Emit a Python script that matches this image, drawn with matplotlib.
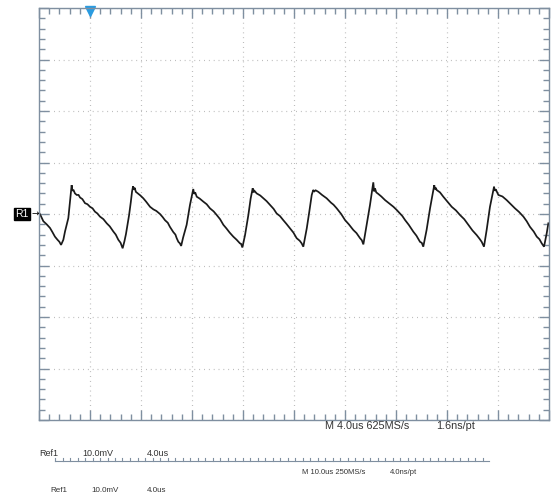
import matplotlib
matplotlib.use("Agg")
import matplotlib.pyplot as plt
from matplotlib.ticker import MultipleLocator

plt.rcParams["font.family"] = ["Liberation Sans", "DejaVu Sans"]

# Reference waveform R1: time in microseconds, amplitude in millivolts.
# One line per ramp (fall) or edge (rise).
time_us = [
    0.00, 0.15, 0.34, 0.60, 0.86, 1.05, 1.25, 1.45, 1.60, 1.73,
    1.91, 2.04, 2.17, 2.30, 2.43, 2.56,
    2.62, 2.70, 2.82, 2.96, 3.10, 3.22, 3.40, 3.61, 3.80, 4.00, 4.20, 4.39, 4.58, 4.78, 5.05, 5.31, 5.55, 5.83, 6.02, 6.22, 6.40, 6.56,
    6.70, 6.82, 6.95, 7.06, 7.20, 7.30, 7.38,
    7.44, 7.50, 7.60, 7.75, 7.95, 8.18, 8.40, 8.71, 8.97, 9.20, 9.49, 9.70, 9.88, 10.10, 10.27, 10.53, 10.70, 10.80, 10.93, 11.05, 11.15,
    11.30, 11.58, 11.84, 12.10,
    12.16, 12.25, 12.37, 12.60, 12.89, 13.15, 13.41, 13.70, 13.94, 14.20, 14.46, 14.70, 14.95, 15.24, 15.50, 15.76, 15.85, 15.95,
    16.16, 16.42, 16.60, 16.76,
    16.82, 16.90, 17.07, 17.35, 17.60, 17.85, 18.12, 18.40, 18.64, 18.90, 19.16, 19.40, 19.69, 19.95, 20.21, 20.45, 20.60, 20.73,
    21.00, 21.20, 21.39, 21.51,
    21.60, 21.70, 21.91, 22.20, 22.56, 22.90, 23.10, 23.35, 23.70, 24.00, 24.30, 24.65, 24.90, 25.18, 25.32, 25.44,
    25.70, 25.96, 26.22,
    26.28, 26.35, 26.45, 26.61, 26.85, 27.14, 27.45, 27.80, 28.05, 28.31, 28.50, 28.71, 29.00, 29.36, 29.60, 29.88, 30.02, 30.14,
    30.40, 30.67, 31.00,
    31.06, 31.12, 31.19, 31.45, 31.71, 32.00, 32.37, 32.70, 33.02, 33.35, 33.67, 34.00, 34.33, 34.55, 34.72, 34.90,
    35.11, 35.37, 35.69,
    35.75, 35.82, 36.03, 36.35, 36.68, 37.00, 37.33, 37.65, 37.99, 38.25, 38.51, 38.80, 39.04, 39.25, 39.43, 39.61,
    39.82, 39.95,
]
level_mv = [
    0.3, -0.4, -1.4, -2.0, -2.7, -3.5, -4.4, -5.0, -5.4, -6.0,
    -5.0, -3.4, -2.1, -0.8, 2.4, 5.6,
    4.5, 4.7, 4.0, 3.7, 3.7, 3.2, 2.9, 2.1, 1.9, 1.4, 1.1, 0.45, 0.1, -0.5, -1.0, -1.8, -2.4, -3.4, -4.0, -5.0, -5.6, -6.66,
    -5.3, -3.9, -2.0, -0.3, 2.3, 4.4, 5.4,
    4.7, 5.1, 4.3, 4.0, 3.6, 3.05, 2.4, 1.4, 0.9, 0.6, 0.0, -0.6, -1.2, -1.7, -2.5, -3.5, -4.0, -4.7, -5.4, -5.7, -6.2,
    -4.6, -2.1, 1.75, 4.85,
    3.9, 4.2, 3.36, 3.0, 2.4, 1.9, 1.1, 0.5, -0.2, -1.0, -2.1, -2.8, -3.6, -4.4, -5.0, -5.7, -5.8, -6.5,
    -4.1, -0.2, 3.0, 5.0,
    4.2, 4.5, 4.0, 3.6, 3.05, 2.5, 1.75, 1.0, 0.1, -0.4, -1.2, -1.9, -2.8, -3.6, -4.7, -5.2, -5.7, -6.35,
    -2.8, 0.45, 3.7, 4.66,
    4.4, 4.6, 4.3, 3.7, 3.05, 2.2, 1.8, 1.1, 0.0, -1.17, -2.0, -3.1, -3.7, -4.7, -5.1, -5.9,
    -2.1, 1.75, 6.15,
    4.4, 5.0, 4.2, 3.9, 3.4, 2.7, 2.1, 1.4, 0.8, 0.1, -0.4, -1.17, -2.1, -3.44, -4.2, -5.4, -5.6, -6.35,
    -3.1, 1.1, 5.6,
    4.8, 5.1, 4.66, 4.2, 3.36, 2.5, 1.4, 0.7, -0.2, -1.0, -2.1, -3.2, -4.1, -4.8, -5.4, -6.35,
    -3.1, 1.4, 5.3,
    4.5, 4.8, 3.7, 3.4, 2.7, 1.9, 1.1, 0.4, -0.5, -1.4, -2.5, -3.4, -4.4, -4.9, -5.7, -6.35,
    -3.75, -1.8,
]

# Display settings
volts_per_div = 10.0     # mV
time_per_div = 4.0       # us
n_xdiv = 10
n_ydiv = 8
trigger_time = 4.0       # us

frame_color = "#7f8fa0"
grid_color = "#b0b0b0"
text_color = "#333333"

W, H = 553, 495
fig = plt.figure(figsize=(W / 100, H / 100), dpi=100)
fig.patch.set_facecolor("white")

left, right, top, bottom = 39, 549, 8, 420
ax = fig.add_axes([left / W, 1 - bottom / H, (right - left) / W, (bottom - top) / H])
ymax = n_ydiv / 2 * volts_per_div
ax.set_xlim(0, n_xdiv * time_per_div)
ax.set_ylim(-ymax, ymax)

for s in ax.spines.values():
    s.set_color(frame_color)
    s.set_linewidth(1.0)

ax.xaxis.set_major_locator(MultipleLocator(time_per_div))
ax.xaxis.set_minor_locator(MultipleLocator(time_per_div / 5))
ax.yaxis.set_major_locator(MultipleLocator(volts_per_div))
ax.yaxis.set_minor_locator(MultipleLocator(volts_per_div / 5))
ax.tick_params(which="both", direction="in", color=frame_color,
               top=True, bottom=True, left=True, right=True,
               labelbottom=False, labelleft=False, width=1.0)
ax.tick_params(which="major", length=7)
ax.tick_params(which="minor", length=4)

ax.grid(which="major", color=grid_color, linestyle=(0, (0.7, 3.4)), linewidth=0.85)

ax.plot(time_us, level_mv, color="#1a1a1a", linewidth=1.25, solid_joinstyle="miter")

# trigger position marker, tucked just under the top edge
px_to_mv = 2 * ymax / (bottom - top)
ax.plot([trigger_time], [ymax - 3.5 * px_to_mv], marker="v", markersize=7,
        color="#2a9be0", clip_on=False)


def fx(px):
    return px / W


def fy(py):
    return 1 - py / H


# channel reference label
fig.text(fx(15.5), fy(214), "R1", color="white", fontsize=7.5, va="center", ha="left",
         bbox=dict(boxstyle="square,pad=0.12", facecolor="black", edgecolor="black"))
fig.text(fx(31.5), fy(213), "\u2192", color="black", fontsize=6.5, va="center", ha="left",
         family=["DejaVu Sans"])

# acquisition readouts
fig.text(fx(325), fy(426), "M 4.0us 625MS/s", fontsize=7.8, color=text_color, va="center")
fig.text(fx(436), fy(426), "1.6ns/pt", fontsize=7.8, color=text_color, va="center")

fig.text(fx(39), fy(453), "Ref1", fontsize=6.5, color=text_color, va="center")
fig.text(fx(82), fy(453), "10.0mV", fontsize=6.5, color=text_color, va="center")
fig.text(fx(147), fy(453), "4.0us", fontsize=6.5, color=text_color, va="center")

# ruler under the reference readout
rx0, rx1, ry = 55, 489, 461
fig.add_artist(plt.Line2D([fx(rx0), fx(rx1)], [fy(ry), fy(ry)], color=frame_color,
                          linewidth=0.8))
x = rx0
while x <= rx1 + 0.1:
    fig.add_artist(plt.Line2D([fx(x), fx(x)], [fy(ry), fy(ry - 3.5)], color=frame_color,
                              linewidth=0.8))
    x += 7.5

fig.text(fx(302), fy(472), "M 10.0us 250MS/s", fontsize=5.5, color=text_color, va="center")
fig.text(fx(390), fy(472), "4.0ns/pt", fontsize=5.5, color=text_color, va="center")

fig.text(fx(50), fy(487), "Ref1", fontsize=5.8, color=text_color, va="top")
fig.text(fx(91), fy(487), "10.0mV", fontsize=5.8, color=text_color, va="top")
fig.text(fx(147), fy(487), "4.0us", fontsize=5.8, color=text_color, va="top")

fig.savefig("out.png", dpi=100, facecolor="white")
